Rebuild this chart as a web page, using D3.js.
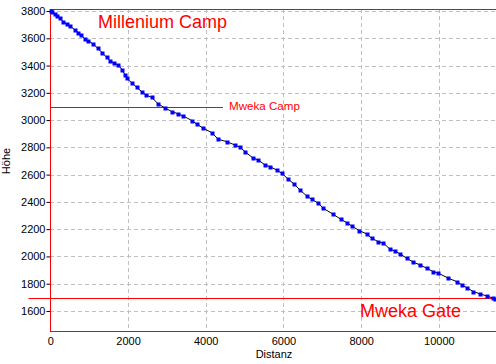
<!DOCTYPE html>
<html><head><meta charset="utf-8">
<script src="https://cdn.jsdelivr.net/npm/d3@7"></script>
<style>body{margin:0;background:#fff}svg{display:block}text{font-family:Arial,"Liberation Sans",sans-serif}</style>
</head><body>
<svg id="c" width="496" height="364"></svg>
<script>
const distance = [10,51,121,180,250,335,422,507,636,721,790,893,978,1107,1220,1338,1452,1537,1647,1750,1853,1923,1967,2111,2224,2353,2463,2610,2780,2952,3125,3295,3423,3640,3768,3938,4154,4324,4541,4754,4883,5011,5225,5354,5526,5655,5827,5956,6126,6273,6427,6600,6728,6898,7027,7269,7475,7629,7758,7954,8144,8273,8443,8571,8744,8872,9001,9174,9344,9516,9688,9858,9987,10245,10461,10590,10718,10888,11060,11233,11403,11447];
const height = [3802,3793,3778,3763,3746,3722,3705,3690,3661,3641,3622,3595,3582,3558,3526,3494,3460,3433,3416,3404,3367,3331,3306,3270,3240,3208,3184,3167,3118,3089,3063,3045,3030,2997,2971,2940,2908,2859,2842,2817,2801,2768,2720,2707,2671,2658,2634,2610,2566,2531,2487,2443,2419,2390,2353,2311,2273,2248,2223,2189,2165,2133,2108,2097,2053,2040,2018,1987,1957,1938,1913,1888,1877,1840,1815,1791,1771,1742,1725,1710,1693,1686];
const xTicks = [0,2000,4000,6000,8000,10000];
const yTicks = [1600,1800,2000,2200,2400,2600,2800,3000,3200,3400,3600,3800];
const markerNames = ["Millenium Camp","Mweka Camp","Mweka Gate"];
const markerHeights = [3812,3098,1693];
const markerEnds = [11470,4445,11470];
const xLabel = "Distanz", yLabel = "Höhe";

const svg = d3.select("#c");
const x = d3.scaleLinear().domain([0,11470]).range([50.3,496]);
const y = d3.scaleLinear().domain([1453,3815]).range([331,9]);

// grid
const grid = svg.append("g").attr("stroke","#c0c0c0").attr("stroke-dasharray","4,3").attr("shape-rendering","crispEdges");
grid.selectAll(".gx").data(xTicks.filter(d=>d>0)).join("line")
  .attr("x1",d=>Math.round(x(d))+0.5).attr("x2",d=>Math.round(x(d))+0.5).attr("y1",y.range()[1]).attr("y2",y.range()[0]);
grid.selectAll(".gy").data(yTicks).join("line")
  .attr("y1",d=>Math.round(y(d))+0.5).attr("y2",d=>Math.round(y(d))+0.5).attr("x1",50).attr("x2",496);

// axes
const yAxis = d3.axisLeft(y).tickValues(yTicks).tickSize(4).tickPadding(1).tickFormat(d3.format("d"));
const gy = svg.append("g").attr("transform","translate(50.5,0)").call(yAxis);
gy.select(".domain").remove();
gy.selectAll("text").attr("font-size",11).attr("fill","#000").attr("font-family","Arial, Liberation Sans, sans-serif");
gy.selectAll("line").attr("stroke","#000");

const xAxis = d3.axisBottom(x).tickValues(xTicks).tickSize(0).tickPadding(6).tickFormat(d3.format("d"));
const gx = svg.append("g").attr("transform","translate(0,331.5)").call(xAxis);
gx.select(".domain").remove();
gx.selectAll("text").attr("font-size",11).attr("fill","#000").attr("font-family","Arial, Liberation Sans, sans-serif");

// axis lines (red)
svg.append("line").attr("x1",50.5).attr("x2",50.5).attr("y1",y.range()[1]).attr("y2",331.5).attr("stroke","#f00");
svg.append("line").attr("x1",50).attr("x2",496).attr("y1",331.5).attr("y2",331.5).attr("stroke","#f00");

// marker lines
const mStart = [0,0,-560];
markerHeights.forEach((h,i)=>{
  svg.append("line").attr("x1",x(mStart[i])).attr("x2",x(markerEnds[i]))
    .attr("y1",Math.round(y(h))+0.5).attr("y2",Math.round(y(h))+0.5).attr("stroke","#f00");
});

// profile
const pts = distance.map((d,i)=>[d,height[i]]);
svg.append("path").datum(pts).attr("fill","none").attr("stroke","#000").attr("stroke-width",1)
  .attr("d",d3.line().x(d=>x(d[0])).y(d=>y(d[1])));
svg.append("g").selectAll("rect").data(pts).join("rect")
  .attr("x",d=>Math.round(x(d[0]))-1.5).attr("y",d=>Math.round(y(d[1]))-1.5).attr("width",4).attr("height",4).attr("fill","#00f");

// labels
svg.append("text").attr("x",98).attr("y",27.5).attr("font-size",18).attr("fill","#f00").text(markerNames[0]);
svg.append("text").attr("x",229).attr("y",110).attr("font-size",11.6).attr("fill","#f00").text(markerNames[1]);
svg.append("text").attr("x",360).attr("y",316.5).attr("font-size",18).attr("fill","#f00").text(markerNames[2]);

svg.append("text").attr("x",274).attr("y",358).attr("text-anchor","middle").attr("font-size",11).text(xLabel);
svg.append("text").attr("transform","translate(10,161) rotate(-90)").attr("text-anchor","middle").attr("font-size",11).text(yLabel);
</script>
</body></html>
